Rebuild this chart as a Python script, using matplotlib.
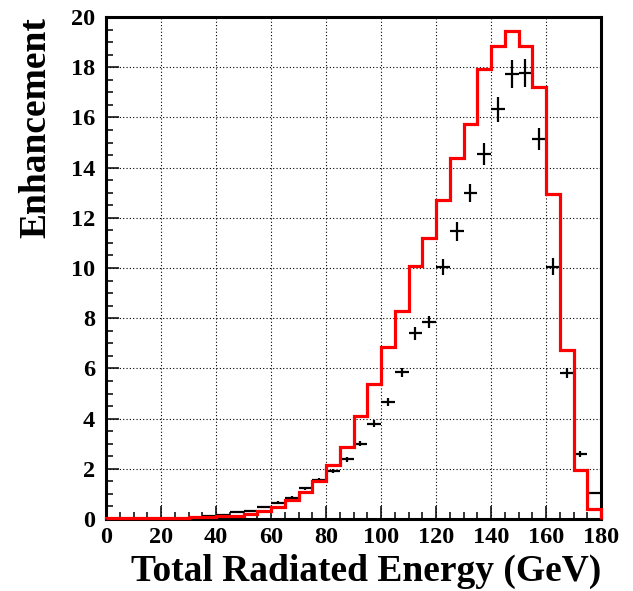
"""Enhancement vs total radiated energy: simulation histogram and data points."""
import numpy as np, matplotlib
matplotlib.use('Agg')
import matplotlib.pyplot as plt
from matplotlib.ticker import MultipleLocator

plt.rcParams['font.family'] = ['Liberation Serif', 'DejaVu Serif']
plt.rcParams['font.weight'] = 'bold'

# 5 GeV bins from 0 to 180
bin_edges = np.arange(0, 181, 5)
bin_centers = bin_edges[:-1] + 2.5

# simulation (red histogram)
sim = [0.04, 0.04, 0.04, 0.04, 0.05, 0.05, 0.06, 0.08, 0.10, 0.12,
       0.20, 0.33, 0.49, 0.76, 1.09, 1.51, 2.15, 2.88, 4.12, 5.39,
       6.84, 8.28, 10.06, 11.20, 12.70, 14.40, 15.74, 17.94, 18.85, 19.43,
       18.86, 17.20, 12.94, 6.72, 1.95, 0.38]

# measured (black crosses); empty bins left out
data = [np.nan, np.nan, np.nan, np.nan, np.nan, np.nan, np.nan, 0.12, 0.16, 0.28,
        0.33, 0.47, 0.65, 0.84, 1.22, 1.55, 1.90, 2.38, 3.00, 3.80,
        4.67, 5.84, 7.40, 7.84, 10.04, 11.46, 12.99, 14.55, 16.33, 17.73,
        17.76, 15.14, 10.05, 5.80, 2.59, 1.03]
data_err = [0.0, 0.0, 0.0, 0.0, 0.0, 0.0, 0.0, 0.03, 0.03, 0.04,
            0.04, 0.05, 0.05, 0.06, 0.07, 0.07, 0.08, 0.09, 0.11, 0.15,
            0.17, 0.18, 0.25, 0.23, 0.31, 0.37, 0.37, 0.45, 0.50, 0.55,
            0.55, 0.45, 0.33, 0.20, 0.10, 0.05]

fig = plt.figure(figsize=(6.33, 5.91), dpi=100)
ax = fig.add_axes([106/633, 1 - 519/591, 495/633, 502/591])

ax.errorbar(bin_centers, data, xerr=2.5, yerr=data_err, fmt='none',
            ecolor='black', elinewidth=1.6, capsize=0, zorder=3)
ax.stairs(sim, bin_edges, color='#ff0000', linewidth=2.3, baseline=0,
          zorder=4, clip_on=False)

ax.set_xlim(0, 180)
ax.set_ylim(0, 20)
ax.xaxis.set_major_locator(MultipleLocator(20))
ax.xaxis.set_minor_locator(MultipleLocator(5))
ax.yaxis.set_major_locator(MultipleLocator(2))
ax.yaxis.set_minor_locator(MultipleLocator(0.5))
ax.tick_params(which='both', direction='in', top=False, right=False,
               width=1.1, labelsize=17.5)
ax.tick_params(axis='x', which='major', length=9.5, pad=6)
ax.tick_params(axis='y', which='major', length=9.5, pad=8)
ax.tick_params(which='minor', length=5)
ax.grid(True, which='major', color='black', linestyle=(0, (1, 2)), linewidth=0.8)
for s in ax.spines.values():
    s.set_linewidth(2.2)

# ROOT-style axis titles, flush with the far end of each axis
ax.set_xlabel('Total Radiated Energy (GeV)', fontsize=27, fontweight='bold',
              labelpad=4, loc='right')
ax.set_ylabel('Enhancement', fontsize=27, fontweight='bold',
              labelpad=12, loc='top')

fig.savefig('out.png', dpi=100)
